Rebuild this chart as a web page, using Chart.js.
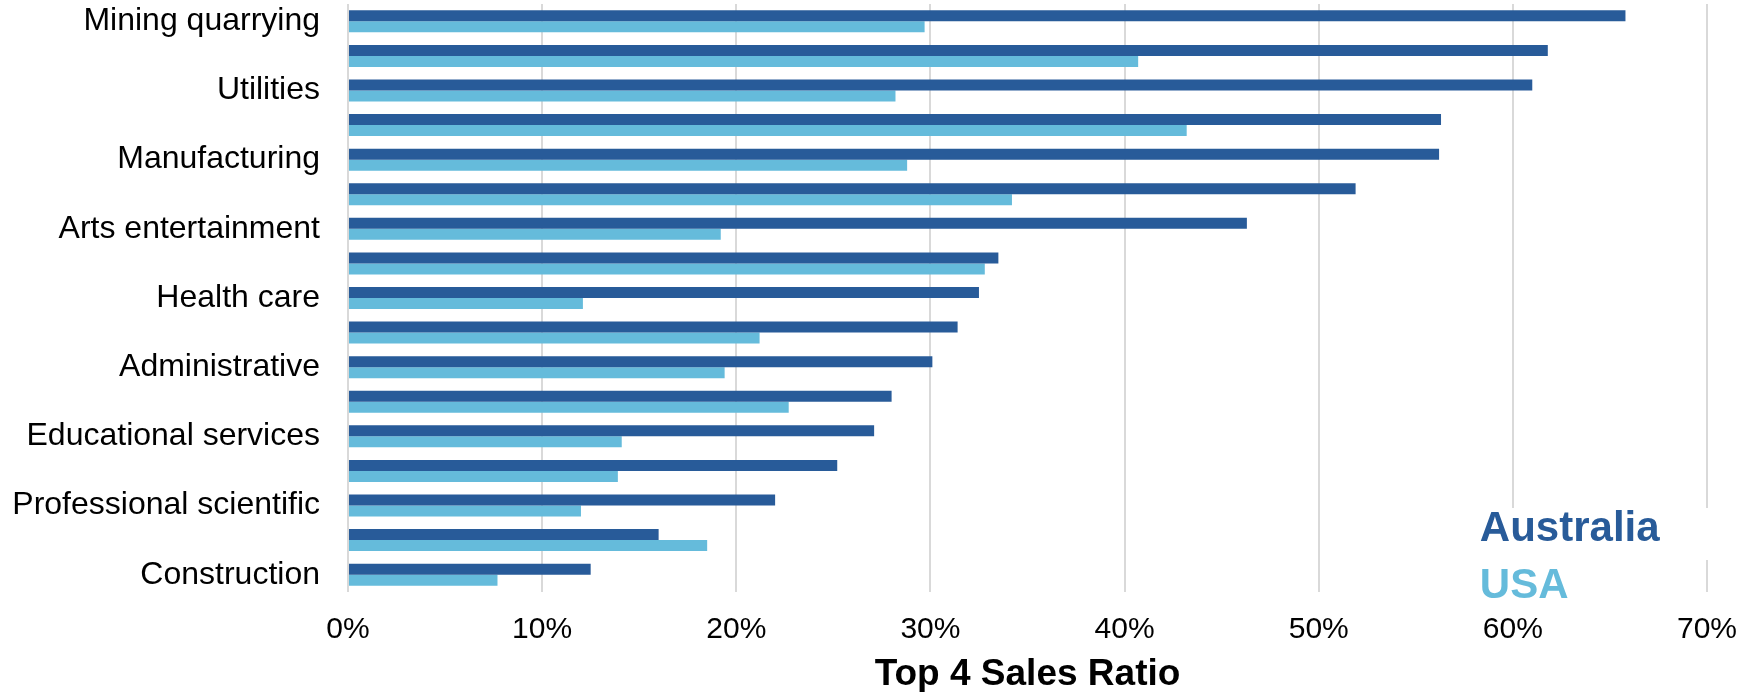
<!DOCTYPE html>
<html>
<head>
<meta charset="utf-8">
<title>Top 4 Sales Ratio</title>
<script src="https://cdn.jsdelivr.net/npm/chart.js@4"></script>
<style>
    html, body { margin: 0; padding: 0; background: #ffffff; }
    #wrap { width: 1755px; height: 692px; }
</style>
</head>
<body>
<div id="wrap"><canvas id="salesChart" width="1755" height="692"></canvas></div>
<script>
// Industry rows, top to bottom (only every other one is labelled on the axis)
const categories = [
    'Mining quarrying', '', 'Utilities', '', 'Manufacturing', '',
    'Arts entertainment', '', 'Health care', '', 'Administrative', '',
    'Educational services', '', 'Professional scientific', '', 'Construction'
];

// Top 4 sales ratio, in percent
const australiaValues = [65.8, 61.8, 61.0, 56.3, 56.2, 51.9, 46.3, 33.5, 32.5, 31.4, 30.1, 28.0, 27.1, 25.2, 22.0, 16.0, 12.5];
const usaValues = [29.7, 40.7, 28.2, 43.2, 28.8, 34.2, 19.2, 32.8, 12.1, 21.2, 19.4, 22.7, 14.1, 13.9, 12.0, 18.5, 7.7];

const xTicks = [0, 10, 20, 30, 40, 50, 60, 70];
const axisTitle = 'Top 4 Sales Ratio';

const AUS_COLOR = '#285b99';
const USA_COLOR = '#65bbdb';
const FONT = '"Liberation Sans", Arial, sans-serif';

// Legend drawn inside the plot, bottom right, on a white patch
const insideLegend = {
    id: 'insideLegend',
    afterDatasetsDraw(chart) {
        const ctx = chart.ctx;
        const xScale = chart.scales.x;
        const area = chart.chartArea;
        const left = xScale.getPixelForValue(58.3);

        ctx.save();
        ctx.fillStyle = '#ffffff';
        ctx.fillRect(left - 8, area.bottom - 84, area.right - left + 16, 52);
        ctx.fillRect(left - 8, area.bottom - 32, 120, 32);

        ctx.font = 'bold 42px ' + FONT;
        ctx.textAlign = 'left';
        ctx.textBaseline = 'middle';
        chart.data.datasets.forEach((ds, i) => {
            ctx.fillStyle = ds.backgroundColor;
            ctx.fillText(ds.label, left, area.bottom - 63 + i * 57);
        });
        ctx.restore();
    }
};

function createChart() {
    const ctx = document.getElementById('salesChart').getContext('2d');

    new Chart(ctx, {
        type: 'bar',
        data: {
            labels: categories,
            datasets: [
                {
                    label: 'Australia',
                    data: australiaValues,
                    backgroundColor: AUS_COLOR,
                    categoryPercentage: 0.636,
                    barPercentage: 1.0
                },
                {
                    label: 'USA',
                    data: usaValues,
                    backgroundColor: USA_COLOR,
                    categoryPercentage: 0.636,
                    barPercentage: 1.0
                }
            ]
        },
        options: {
            indexAxis: 'y',
            responsive: false,
            animation: false,
            layout: {
                padding: { top: 4, right: 48, left: 0, bottom: 0 }
            },
            plugins: {
                legend: { display: false },
                tooltip: { enabled: false }
            },
            scales: {
                x: {
                    min: 0,
                    max: 70,
                    afterBuildTicks(scale) {
                        scale.ticks = xTicks.map(v => ({ value: v }));
                    },
                    afterFit(scale) {
                        scale.height = 100;
                        scale.paddingRight = 40;
                    },
                    grid: {
                        color: '#d9d9d9',
                        lineWidth: 2,
                        drawTicks: false
                    },
                    border: { display: false },
                    ticks: {
                        padding: 20,
                        color: '#000000',
                        font: { family: FONT, size: 30 },
                        callback: v => v + '%'
                    },
                    title: {
                        display: true,
                        text: axisTitle,
                        color: '#000000',
                        font: { family: FONT, size: 37, weight: 'bold', lineHeight: 0.92 },
                        padding: { top: 0, bottom: 0 }
                    }
                },
                y: {
                    afterFit(scale) {
                        scale.width = 348;
                    },
                    // invisible tick marks give the gap between labels and bars
                    grid: {
                        drawOnChartArea: false,
                        drawTicks: true,
                        tickLength: 28,
                        tickColor: 'rgba(0,0,0,0)'
                    },
                    border: { display: false },
                    ticks: {
                        autoSkip: false,
                        padding: 0,
                        color: '#000000',
                        font: { family: FONT, size: 32, lineHeight: 0.25 }
                    }
                }
            }
        },
        plugins: [insideLegend]
    });
}

document.addEventListener('DOMContentLoaded', createChart);
</script>
</body>
</html>
